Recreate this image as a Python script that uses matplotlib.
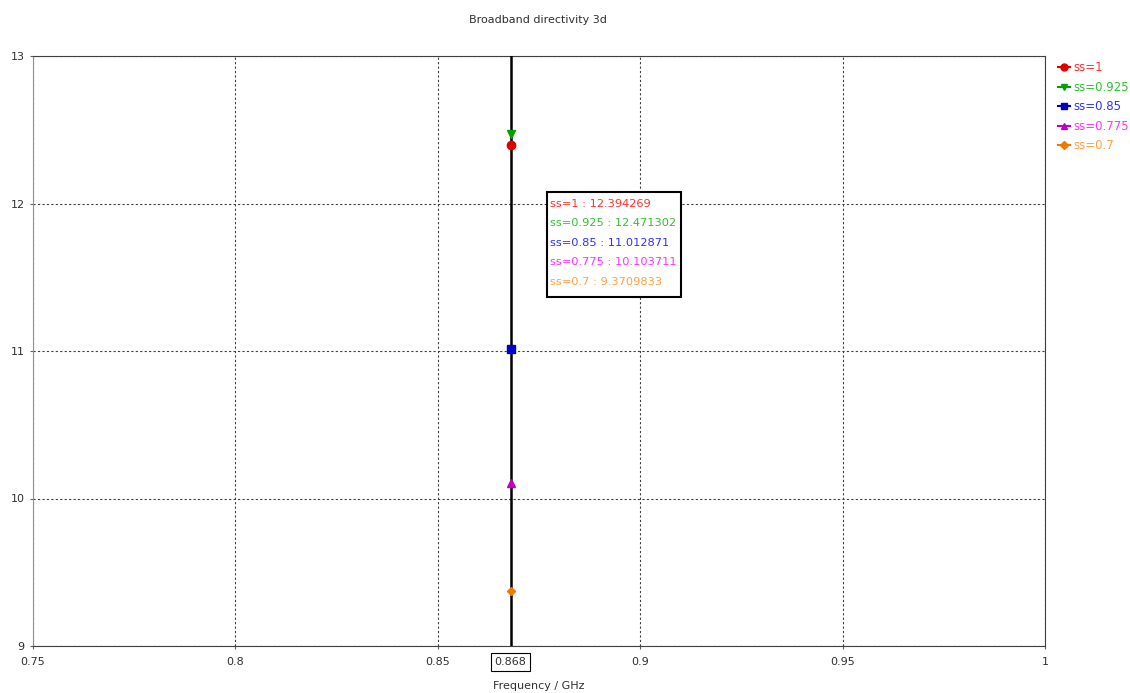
import matplotlib
matplotlib.use("Agg")
import matplotlib.pyplot as plt
from matplotlib.lines import Line2D

# data
labels = ["ss=1", "ss=0.925", "ss=0.85", "ss=0.775", "ss=0.7"]
freq = 0.868
values = [12.394269, 12.471302, 11.012871, 10.103711, 9.3709833]
value_text = ["12.394269", "12.471302", "11.012871", "10.103711", "9.3709833"]
markers = ["o", "v", "s", "^", "D"]
marker_colors = ["#e00000", "#00a000", "#0000c8", "#c000c0", "#f07800"]
text_colors = ["#ff3030", "#30c030", "#3030ff", "#ff30ff", "#ffa040"]
x_ticks = [0.75, 0.8, 0.85, 0.9, 0.95, 1.0]
x_tick_labels = ["0.75", "0.8", "0.85", "0.9", "0.95", "1"]
y_ticks = [9, 10, 11, 12, 13]

plt.rcParams["font.family"] = ["DejaVu Sans"]
plt.rcParams["font.size"] = 8

fig = plt.figure(figsize=(11.3, 6.93), dpi=100)
ax = fig.add_axes([33 / 1130, 1 - 646 / 693, (1045 - 33) / 1130, (646 - 56) / 693])

ax.set_xlim(0.75, 1.0)
ax.set_ylim(9, 13)
ax.set_xticks(x_ticks)
ax.set_xticklabels(x_tick_labels)
ax.set_yticks(y_ticks)
ax.grid(True, color="#404040", linestyle=(0, (2, 2)), linewidth=0.8)
ax.tick_params(direction="out", length=2, color="#606060", labelcolor="#303030")
ax.tick_params(axis="x", pad=6)
ax.tick_params(axis="y", pad=4)
for sp in ax.spines.values():
    sp.set_color("#404040")
    sp.set_linewidth(0.8)
ax.spines["left"].set_color("#909090")

# marker line
ax.axvline(freq, color="black", linewidth=1.8, zorder=3)

handles = []
for lab, v, m, mc in zip(labels, values, markers, marker_colors):
    ms = 4.5 if m == "D" else 6
    ax.plot([freq], [v], marker=m, color=mc, markersize=ms, linestyle="none", zorder=4)
    handles.append(Line2D([0], [0], color=mc, marker=m, markersize=5 if m != "D" else 4,
                          linewidth=1.5, label=lab))

leg = ax.legend(handles=handles, loc="upper left", bbox_to_anchor=(1.008, 0.999),
                frameon=False, handlelength=1.0, handletextpad=0.3, labelspacing=0.55,
                borderaxespad=0, fontsize=8.5)
for t, c in zip(leg.get_texts(), text_colors):
    t.set_color(c)

# tooltip box
bx0 = 0.877
by_top = 12.078
lines = [f"{lab} : {vt}" for lab, vt in zip(labels, value_text)]
box_w = 0.0332
box_h = 0.712
ax.add_patch(plt.Rectangle((bx0, by_top - box_h), box_w, box_h, facecolor="white",
                           edgecolor="black", linewidth=1.5, zorder=5))
for i, (ln, c) in enumerate(zip(lines, text_colors)):
    ax.text(bx0 + 0.0006, by_top - 0.081 - i * 0.132, ln, color=c, fontsize=8.2,
            va="center", ha="left", zorder=6)

# boxed current frequency label
ax.text(freq, -0.0265, "0.868", transform=ax.get_xaxis_transform(), ha="center", va="center",
        fontsize=8, color="#303030",
        bbox=dict(boxstyle="square,pad=0.35", facecolor="white", edgecolor="black", linewidth=0.8))

ax.set_xlabel("Frequency / GHz", color="#303030", fontsize=8, labelpad=10)
fig.text(538 / 1130, 1 - 20 / 693, "Broadband directivity 3d", ha="center", va="center",
         fontsize=8, color="#303030")

fig.savefig("out.png", dpi=100)
